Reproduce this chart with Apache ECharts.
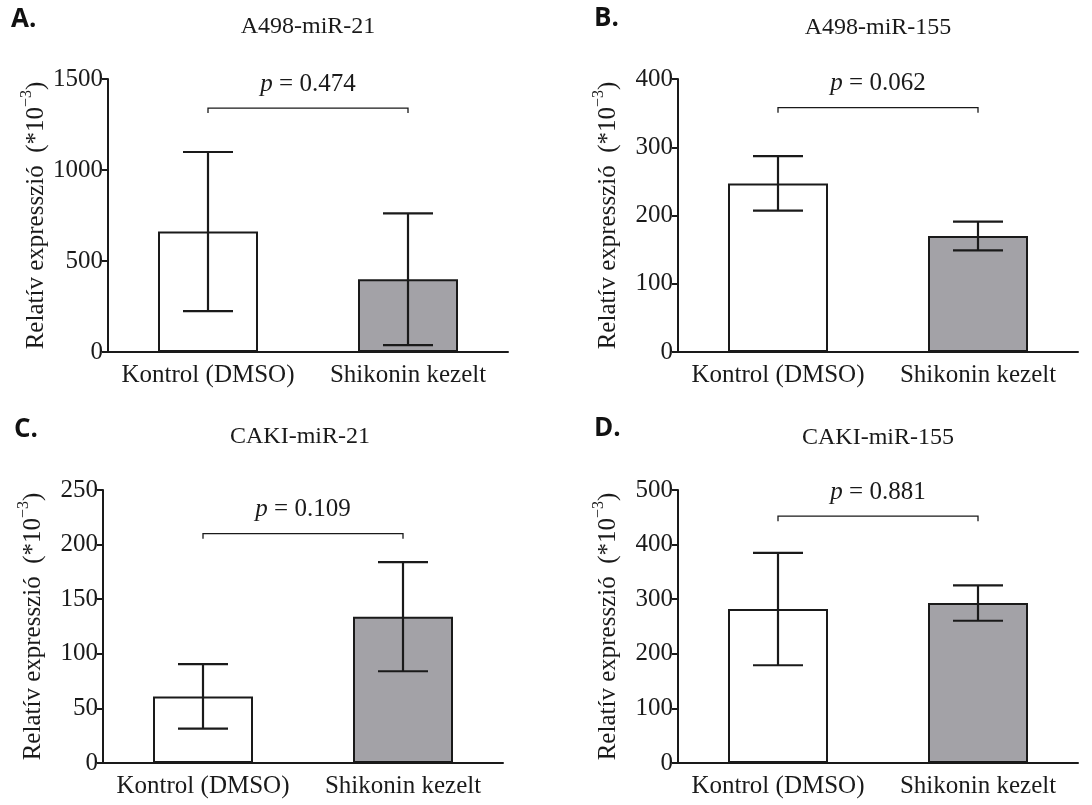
<!DOCTYPE html>
<html>

<head>
    <meta charset="UTF-8">
    <title>Relatív expresszió</title>
    <script src="https://cdn.jsdelivr.net/npm/echarts@6/dist/echarts.min.js"></script>
</head>

<body style="margin:0;background:#fff;">
    <div id="main" style="width:1092px;height:805px;"></div>

    <script>
        // data
        var categories = ['Kontrol (DMSO)', 'Shikonin kezelt'];
        var panelLetters = ['A.', 'B.', 'C.', 'D.'];
        var panelTitles = ['A498-miR-21', 'A498-miR-155', 'CAKI-miR-21', 'CAKI-miR-155'];
        var meanA = [662, 400];
        var sdA = [437, 362];
        var meanB = [247, 170];
        var sdB = [40, 21];
        var meanC = [61, 134];
        var sdC = [29.5, 50];
        var meanD = [282, 293];
        var sdD = [103, 32.5];
        var pValues = ['0.474', '0.062', '0.109', '0.881'];
        var bracketLevel = [1340, 358, 210, 452];
        var yMax = [1500, 400, 250, 500];
        var yStep = [500, 100, 50, 100];

        var means = [meanA, meanB, meanC, meanD];
        var sds = [sdA, sdB, sdC, sdD];

        var serif = '"Liberation Serif", "Times New Roman", serif';
        var ink = '#1a1a1a';
        var barColors = ['#ffffff', '#a3a2a7'];

        // grid boxes (px)
        var boxes = [
            { left: 108, top: 79 },
            { left: 678, top: 79 },
            { left: 103, top: 490 },
            { left: 678, top: 490 }
        ];
        var titlePos = [
            { x: 308, y: 27, lx: 11, ly: 20 },
            { x: 878, y: 28, lx: 594, ly: 19 },
            { x: 300, y: 437, lx: 14, ly: 430 },
            { x: 878, y: 438, lx: 594, ly: 429 }
        ];

        var myChart = echarts.init(document.getElementById('main'));

        var grid = [], xAxis = [], yAxis = [], series = [], graphic = [];

        for (var i = 0; i < 4; i++) {
            grid.push({ left: boxes[i].left, top: boxes[i].top, width: 400, height: 273 });

            xAxis.push({
                type: 'category',
                gridIndex: i,
                data: categories,
                axisLine: { lineStyle: { color: ink, width: 2 } },
                axisTick: { alignWithLabel: true, length: 6, lineStyle: { color: ink, width: 2 } },
                axisLabel: {
                    interval: 0, hideOverlap: false,
                    color: ink, fontFamily: serif, fontSize: 25, margin: 11
                }
            });

            yAxis.push({
                type: 'value',
                gridIndex: i,
                min: 0,
                max: yMax[i],
                interval: yStep[i],
                name: '{n|Relatív expresszió  (*10}{s|−3}{n|)}',
                nameLocation: 'middle',
                nameGap: 57,
                nameRotate: 90,
                nameTextStyle: {
                    rich: {
                        n: { fontFamily: serif, fontSize: 25, color: ink, lineHeight: 30, verticalAlign: 'bottom' },
                        s: { fontFamily: serif, fontSize: 16, color: ink, lineHeight: 30, verticalAlign: 'top' }
                    }
                },
                splitLine: { show: false },
                axisLine: { show: true, lineStyle: { color: ink, width: 2 } },
                axisTick: { show: true, length: 6, lineStyle: { color: ink, width: 2 } },
                axisLabel: {
                    color: ink, fontFamily: serif, fontSize: 25, margin: 5,
                    formatter: function (v) { return String(v); }
                }
            });

            series.push({
                type: 'bar',
                xAxisIndex: i,
                yAxisIndex: i,
                barWidth: 100,
                data: means[i].map(function (v, k) {
                    return { value: v, itemStyle: { color: barColors[k] } };
                }),
                itemStyle: { borderColor: ink, borderWidth: 2 }
            });

            series.push({
                type: 'custom',
                xAxisIndex: i,
                yAxisIndex: i,
                z: 5,
                data: means[i].map(function (v, k) { return [k, v, sds[i][k]]; }),
                renderItem: function (params, api) {
                    var x = api.value(0), m = api.value(1), s = api.value(2);
                    var hi = api.coord([x, m + s]);
                    var lo = api.coord([x, m - s]);
                    var hw = 25;
                    var st = { stroke: ink, lineWidth: 2.2 };
                    return {
                        type: 'group',
                        children: [
                            { type: 'line', shape: { x1: hi[0], y1: hi[1], x2: lo[0], y2: lo[1] }, style: st },
                            { type: 'line', shape: { x1: hi[0] - hw, y1: hi[1], x2: hi[0] + hw, y2: hi[1] }, style: st },
                            { type: 'line', shape: { x1: lo[0] - hw, y1: lo[1], x2: lo[0] + hw, y2: lo[1] }, style: st }
                        ]
                    };
                }
            });

            (function (idx) {
                series.push({
                    type: 'custom',
                    xAxisIndex: idx,
                    yAxisIndex: idx,
                    z: 5,
                    data: [[0, bracketLevel[idx]]],
                    renderItem: function (params, api) {
                        var a = api.coord([0, api.value(1)]);
                        var b = api.coord([1, api.value(1)]);
                        return {
                            type: 'group',
                            children: [
                                {
                                    type: 'polyline',
                                    shape: { points: [[a[0], a[1] + 5], [a[0], a[1]], [b[0], b[1]], [b[0], b[1] + 5]] },
                                    style: { stroke: ink, lineWidth: 1.3, fill: null }
                                },
                                {
                                    type: 'text',
                                    x: (a[0] + b[0]) / 2,
                                    y: a[1] - 24,
                                    style: {
                                        text: '{i|p} = ' + pValues[idx],
                                        fontFamily: serif,
                                        fontSize: 25,
                                        fill: ink,
                                        align: 'center',
                                        verticalAlign: 'middle',
                                        rich: {
                                            i: { fontFamily: serif, fontSize: 25, fontStyle: 'italic', fill: ink }
                                        }
                                    }
                                }
                            ]
                        };
                    }
                });
            })(i);

            graphic.push({
                type: 'text',
                left: titlePos[i].lx,
                top: titlePos[i].ly - 13,
                style: { text: panelLetters[i], font: 'bold 26px "Open Sans", "Liberation Sans", sans-serif', fill: '#111' }
            });
            graphic.push({
                type: 'text',
                x: titlePos[i].x,
                y: titlePos[i].y,
                style: {
                    text: panelTitles[i], fontFamily: serif, fontSize: 24, fill: ink,
                    align: 'center', verticalAlign: 'middle'
                }
            });
        }

        var option = {
            animation: false,
            backgroundColor: '#fff',
            grid: grid,
            xAxis: xAxis,
            yAxis: yAxis,
            series: series,
            graphic: graphic
        };

        myChart.setOption(option);
    </script>

</body>

</html>
